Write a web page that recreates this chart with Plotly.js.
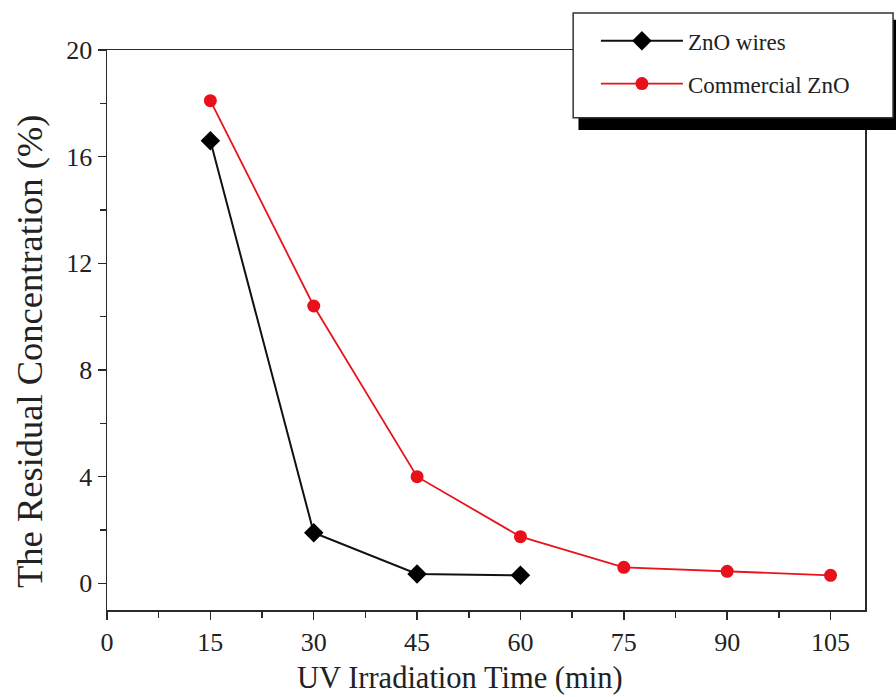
<!DOCTYPE html>
<html>
<head>
<meta charset="utf-8">
<script src="https://cdn.plot.ly/plotly-3.0.1.min.js"></script>
<style>html,body{margin:0;padding:0;background:#fff;}#chart{width:896px;height:697px;}</style>
</head>
<body>
<div id="chart"></div>
<script>
// Data
const timeWires = [15, 30, 45, 60];
const wiresValues = [16.6, 1.9, 0.35, 0.3];
const timeCommercial = [15, 30, 45, 60, 75, 90, 105];
const commercialValues = [18.1, 10.4, 4.0, 1.75, 0.6, 0.45, 0.3];
const seriesNames = ["ZnO wires", "Commercial ZnO"];
const xTicks = [0, 15, 30, 45, 60, 75, 90, 105];
const yTicks = [0, 4, 8, 12, 16, 20];
const xTitle = "UV Irradiation Time (min)";
const yTitle = "The Residual Concentration (%)";

const FONT = "Liberation Serif";

const traces = [
  {
    x: timeWires, y: wiresValues, name: seriesNames[0], type: "scatter", mode: "lines+markers",
    line: {color: "#111111", width: 2},
    marker: {symbol: "diamond", size: 15, color: "#000000"},
    legendgroup: "a"
  },
  {
    x: timeCommercial, y: commercialValues, name: seriesNames[1], type: "scatter", mode: "lines+markers",
    line: {color: "#e8141c", width: 1.8},
    marker: {symbol: "circle", size: 13, color: "#e8101a"},
    legendgroup: "b"
  }
];

const axisCommon = {
  showline: true, linecolor: "#2a2a2a", linewidth: 1.5, mirror: true,
  ticks: "outside", ticklen: 8, tickwidth: 1.5, tickcolor: "#2a2a2a",
  showgrid: false, zeroline: false,
  tickfont: {family: FONT, size: 26, color: "#222"}
};

const layout = {
  width: 896, height: 697,
  margin: {l: 107, r: 31, t: 50, b: 87},
  paper_bgcolor: "#fff", plot_bgcolor: "#fff",
  font: {family: FONT},
  showlegend: true,
  xaxis: Object.assign({}, axisCommon, {
    range: [0, 110], tickvals: xTicks, ticktext: xTicks.map(String),
    minor: {dtick: 7.5, tick0: 0, ticks: "outside", ticklen: 6, tickwidth: 1.5, tickcolor: "#2a2a2a"}
  }),
  yaxis: Object.assign({}, axisCommon, {
    range: [-1, 20], tickvals: yTicks, ticktext: yTicks.map(String),
    minor: {dtick: 2, tick0: 0, ticks: "outside", ticklen: 6, tickwidth: 1.5, tickcolor: "#2a2a2a"}
  }),
  annotations: [
    {text: xTitle, xref: "paper", yref: "paper", x: 0.466, y: -0.121, xanchor: "center", yanchor: "middle",
     showarrow: false, font: {family: FONT, size: 30.5, color: "#222"}},
    {text: yTitle, xref: "paper", yref: "paper", x: -0.102, y: 0.462, xanchor: "center", yanchor: "middle",
     textangle: -90, showarrow: false, font: {family: FONT, size: 36.5, color: "#222"}}
  ],
  legend: {
    x: 0.645, xanchor: "left", y: 1.055, yanchor: "top",
    bgcolor: "rgba(0,0,0,0)", borderwidth: 0,
    font: {family: FONT, size: 23, color: "#222"},
    itemwidth: 82, tracegroupgap: 10, traceorder: "grouped"
  },
  shapes: [
    {type: "rect", xref: "paper", yref: "paper", x0: 0.622, x1: 1.045, y0: 0.857, y1: 1.054,
     fillcolor: "#000", line: {width: 0}, layer: "above"},
    {type: "rect", xref: "paper", yref: "paper", x0: 0.615, x1: 1.037, y0: 0.879, y1: 1.066,
     fillcolor: "#fff", line: {color: "#333", width: 1.5}, layer: "above"}
  ]
};

Plotly.newPlot("chart", traces, layout, {displayModeBar: false, staticPlot: true});
</script>
</body>
</html>
